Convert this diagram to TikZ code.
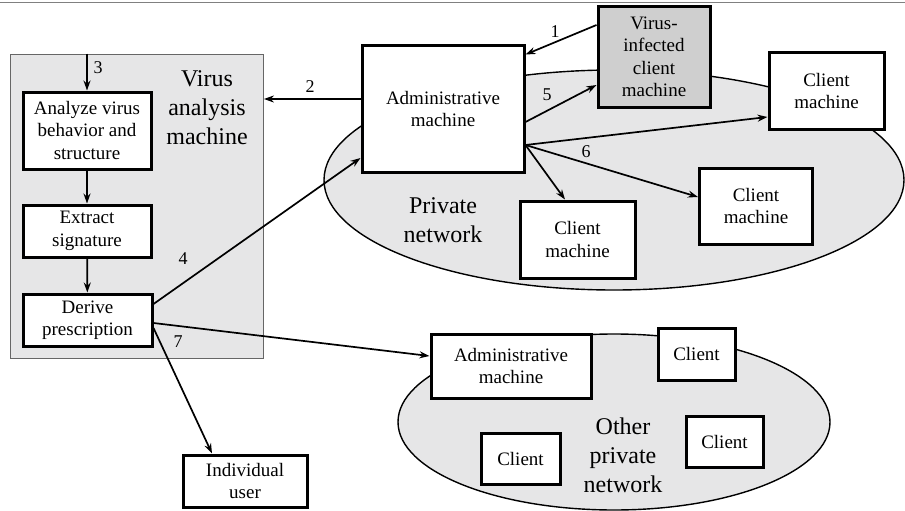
\documentclass[tikz,border=0pt]{standalone}
\usepackage{fontspec}
\setmainfont{Liberation Serif}
\usetikzlibrary{arrows.meta}
\definecolor{netgray}{HTML}{E6E6E7}
\definecolor{infgray}{HTML}{CFCFCF}
\tikzset{
  box/.style={draw, line width=3pt, fill=white, align=center, inner sep=0pt,
    font=\fontsize{19}{22.5}\selectfont},
  netw/.style={draw, line width=1.4pt, fill=netgray, ellipse},
  bigtxt/.style={align=center, font=\fontsize{24}{29}\selectfont},
  num/.style={font=\fontsize{18}{20}\selectfont},
  arr/.style={line width=1.7pt, -{Stealth[length=10pt,width=7pt]}},
  line/.style={line width=1.7pt},
}
\usetikzlibrary{shapes.geometric}
\begin{document}
\begin{tikzpicture}[x=1pt,y=-1pt]
  \useasboundingbox (0,0) rectangle (905,511);
  \draw[gray, line width=1pt] (0,3) -- (905,3);

  % networks
  \node[netw, minimum width=580pt, minimum height=220pt] (pn) at (614,180) {};
  \node[netw, minimum width=432pt, minimum height=176pt] (opn) at (614,422) {};
  \node[draw=gray!80!black, line width=0.8pt, fill=netgray, minimum width=253pt,
    minimum height=304pt, inner sep=0pt] (vam) at (137,206) {};

  \node[bigtxt] (vamtxt) at (207,108) {Virus\\analysis\\machine};
  \node[bigtxt] (pntxt) at (443,220) {Private\\network};
  \node[bigtxt] (opntxt) at (623,455) {Other\\private\\network};

  % boxes
  \node[box, minimum width=128pt, minimum height=77pt] (analyze) at (87,130.5) {Analyze virus\\behavior and\\structure};
  \node[box, minimum width=128pt, minimum height=52pt] (extract) at (87,231) {Extract\\signature};
  \node[box, minimum width=129pt, minimum height=52pt] (derive) at (87.5,320) {Derive\\prescription};

  \node[box, minimum width=162pt, minimum height=126pt] (adm) at (443,109) {Administrative\\machine};
  \node[box, fill=infgray, minimum width=112pt, minimum height=100pt] (inf) at (654,57) {Virus-\\infected\\client\\machine};
  \node[box, minimum width=115pt, minimum height=76pt] (cl1) at (826.5,91) {Client\\machine};
  \node[box, minimum width=113pt, minimum height=76pt] (cl2) at (756,206) {Client\\machine};
  \node[box, minimum width=115pt, minimum height=77pt] (cl3) at (577.5,239.5) {Client\\machine};

  \node[box, minimum width=160pt, minimum height=64pt] (adm2) at (511,366) {Administrative\\machine};
  \node[box, minimum width=77pt, minimum height=52pt] (oc1) at (696.5,354) {Client};
  \node[box, minimum width=77pt, minimum height=51pt] (oc2) at (724.5,441.5) {Client};
  \node[box, minimum width=79pt, minimum height=51pt] (oc3) at (520.5,458.5) {Client};

  \node[box, minimum width=124pt, minimum height=52pt] (ind) at (245,481) {Individual\\user};

  % connectors
  \draw[arr] (analyze.north |- vam.north) -- (analyze.north);
  \node[num] (n3) at (98,68) {3};
  \draw[arr] (analyze) -- (extract);
  \draw[arr] (extract) -- (derive);

  \draw[arr] ([yshift=32pt]inf.west) -- ([yshift=-10pt]adm.north east);
  \node[num] (n1) at (555,32) {1};
  \draw[arr] ([yshift=10pt]adm.west) -- ([yshift=107pt]vam.east);
  \node[num] (n2) at (310,87) {2};
  \draw[arr] ([yshift=-13pt]adm.east) -- ([yshift=-28pt]inf.west);
  \node[num] (n5) at (547,95) {5};

  \draw[arr] ([yshift=-36pt]adm.east) -- ([yshift=-26pt]cl1.west);
  \draw[arr] ([yshift=-36pt]adm.east) -- ([yshift=9pt]cl2.west);
  \draw[arr] ([yshift=-36pt]adm.east) -- ([xshift=-12.5pt]cl3.north);
  \node[num] (n6) at (586,152) {6};

  \draw[arr] ([yshift=16pt]derive.east) -- ([yshift=-49pt]adm.west);
  \node[num] (n4) at (183,259) {4};
  \draw[arr] ([yshift=-3pt]derive.east) -- ([yshift=10pt]adm2.west);
  \draw[arr] ([yshift=-8pt]derive.east) -- ([xshift=-33pt]ind.north);
  \node[num] (n7) at (178,342) {7};
\end{tikzpicture}
\end{document}
